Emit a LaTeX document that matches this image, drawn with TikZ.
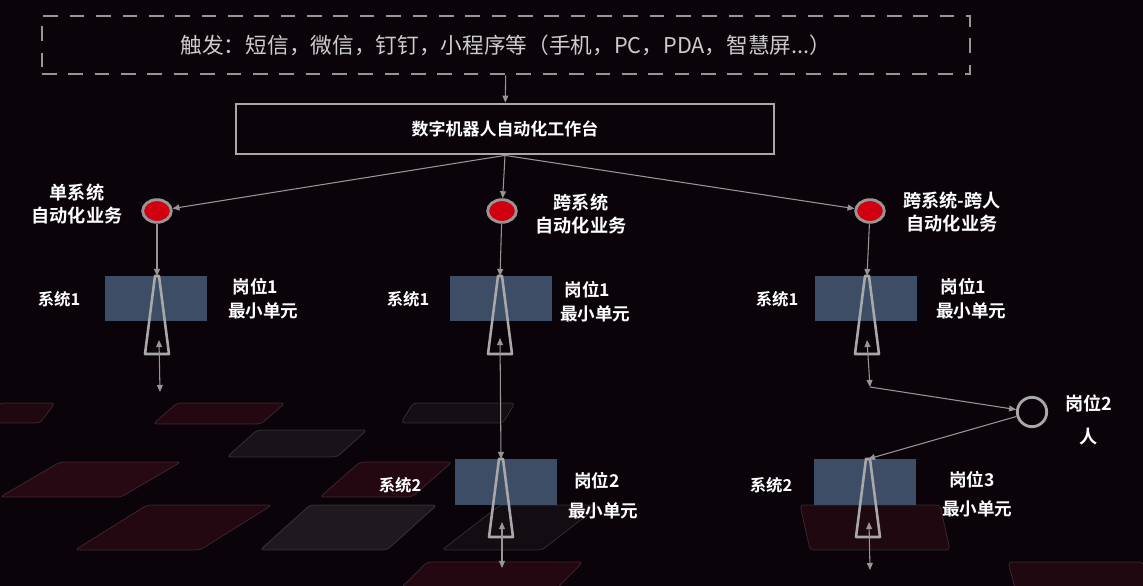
\documentclass[tikz,border=0pt]{standalone}
\usepackage{fontspec}
\setmainfont{Noto Sans CJK SC}[BoldFont={Noto Sans CJK SC Bold}]
\usepackage{xcolor}
\usetikzlibrary{arrows.meta,positioning,calc,shapes.geometric}

\definecolor{bgdark}{RGB}{10,4,10}
\definecolor{linegray}{RGB}{150,150,150}
\definecolor{trigray}{RGB}{168,168,168}
\definecolor{sysblue}{RGB}{62,77,102}
\definecolor{taskred}{RGB}{208,0,16}
\definecolor{tilered}{RGB}{100,20,38}
\definecolor{tilegray}{RGB}{66,58,66}

\begin{document}
\begin{tikzpicture}[
    x=0.03cm, y=-0.03cm,
    % connectors
    conn/.style={draw=linegray, line width=0.9pt, -{Triangle[length=6pt,width=5pt]}},
    both/.style={draw=linegray, line width=0.9pt,
      {Triangle[length=6pt,width=5pt]}-{Triangle[length=6pt,width=5pt]}},
    % boxes and markers
    sysbox/.style={fill=sysblue, minimum width=3.06cm, minimum height=1.37cm, inner sep=0},
    task/.style={ellipse, fill=taskred, draw=linegray, line width=2.4pt,
      minimum width=0.86cm, minimum height=0.68cm, inner sep=0},
    person/.style={circle, draw=trigray, line width=2.4pt, minimum size=0.88cm, inner sep=0},
    tri/.style={draw=trigray, line width=2.2pt, line join=round},
    % texts
    lbl/.style={text=white, font=\bfseries\fontsize{15.5}{20}\selectfont, align=center},
    unit/.style={text=white, font=\bfseries\fontsize{15}{20.5}\selectfont, align=left, anchor=west},
    sysname/.style={text=white, font=\bfseries\fontsize{14}{17}\selectfont},
  ]
  % background
  \fill[bgdark] (0,0) rectangle (1143,586);
  \useasboundingbox (0,0) rectangle (1143,586);
  % floor tiles: x, y, width, height, lean, colour, opacity
  \foreach \tx/\ty/\tw/\th/\ts/\tc/\to in {
      0/403/55/20/15/tilered/0.25, 177/403/108/21/24/tilered/0.28,
      413/403/102/20/12/tilegray/0.20, 257/430/110/27/30/tilegray/0.28,
      60/462/121/35/60/tilered/0.32, 360/462/92/35/40/tilered/0.28,
      147/505/125/45/72/tilered/0.28, 310/505/127/45/50/tilegray/0.38,
      500/505/100/45/58/tilegray/0.16, 800/505/140/45/-10/tilered/0.25,
      427/562/156/30/30/tilered/0.28, 1008/562/135/30/-8/tilered/0.25}
    \draw[fill=\tc, fill opacity=\to, draw=\tc!60!white, draw opacity=0.3,
      line width=0.6pt, rounded corners=3pt]
      (\tx,\ty) -- ++(\tw,0) -- ++(-\ts,\th) -- ++(-\tw,0) -- cycle;

  % trigger and workbench
  \node[draw=linegray, line width=2.5pt, dash pattern=on 12.5pt off 10pt,
    minimum width=27.84cm, minimum height=1.74cm, text=white!80!black,
    font=\fontsize{18.5}{21}\selectfont] (trig) at (506,45)
    {触发：短信，微信，钉钉，小程序等（手机，PC，PDA，智慧屏...）};
  \node[draw=trigray, line width=2.4pt, minimum width=16.14cm, minimum height=1.5cm,
    text=white, font=\bfseries\fontsize{14.5}{17}\selectfont] (bench) at (505,129)
    {数字机器人自动化工作台};

  % three kinds of business
  \node[task] (c1) at (157,211) {};
  \node[task] (c2) at (502,211) {};
  \node[task] (c3) at (870,211) {};
  \node[lbl] (l1) at (77,204) {单系统\\自动化业务};
  \node[lbl] (l2) at (581,214) {跨系统\\自动化业务};
  \node[lbl] (l3) at (952,212) {跨系统-跨人\\自动化业务};

  % systems
  \node[sysbox] (s11) at (156,298.5) {};
  \node[sysbox] (s21) at (500.5,298.5) {};
  \node[sysbox] (s31) at (865.5,298.5) {};
  \node[sysbox] (s22) at (506,482) {};
  \node[sysbox] (s32) at (864.5,482) {};
  \node[sysname] (n11) at (59,299) {系统1};
  \node[sysname] (n21) at (408,299) {系统1};
  \node[sysname] (n31) at (777,299) {系统1};
  \node[sysname] (n22) at (400,485) {系统2};
  \node[sysname] (n32) at (771,485) {系统2};
  \node[unit] (m11) at (224,299) {\hspace{4pt}岗位1\\最小单元};
  \node[unit] (m21) at (556,302) {\hspace{4pt}岗位1\\最小单元};
  \node[unit] (m31) at (932,299) {\hspace{4pt}岗位1\\最小单元};
  \node[unit] (m22) at (564,496) {\hspace{5pt}岗位2\\[5pt]最小单元};
  \node[unit] (m32) at (938,494) {\hspace{6pt}岗位3\\[4pt]最小单元};

  % person step
  \node[person] (p2) at (1032,412) {};
  \node[lbl] (q2) at (1089,420) {岗位2\\[8pt]人};

  % apex of each unit and free ends
  \coordinate (a11) at (157,276);
  \coordinate (a21) at (500,276);
  \coordinate (a31) at (867,276);
  \coordinate (a22) at (501,459);
  \coordinate (a32) at (868,459);
  \coordinate (i11) at (159,340);
  \coordinate (i21) at (500,338);
  \coordinate (i31) at (867,340);
  \coordinate (i22) at (502,522);
  \coordinate (i32) at (869,522);
  \coordinate (e11) at (160,392);
  \coordinate (k3) at (870,387);
  \coordinate (e22) at (502,568);
  \coordinate (e32) at (870,570);

  % unit icons
  \foreach \a in {a11,a21,a31,a22,a32}
    \draw[tri] ($(\a)+(-2,0)$) -- ($(\a)+(-12,78)$) -- ($(\a)+(12,78)$)
      -- ($(\a)+(2,0)$) -- cycle;

  % connectors
  \draw[conn] (trig) -- (bench);
  \draw[conn] (bench.south) -- (c1);
  \draw[conn] (bench.south) -- (c2);
  \draw[conn] (bench.south) -- (c3);
  \draw[conn] (c1) -- (a11);
  \draw[conn] (c2) -- (a21);
  \draw[conn] (c3) -- (a31);
  \draw[both] (i11) -- (e11);
  \draw[both] (i21) -- (a22);
  \draw[both] (i31) -- (k3);
  \draw[conn] (k3) -- (p2);
  \draw[conn] (p2) -- (a32);
  \draw[both] (i22) -- (e22);
  \draw[both] (i32) -- (e32);
\end{tikzpicture}
\end{document}
